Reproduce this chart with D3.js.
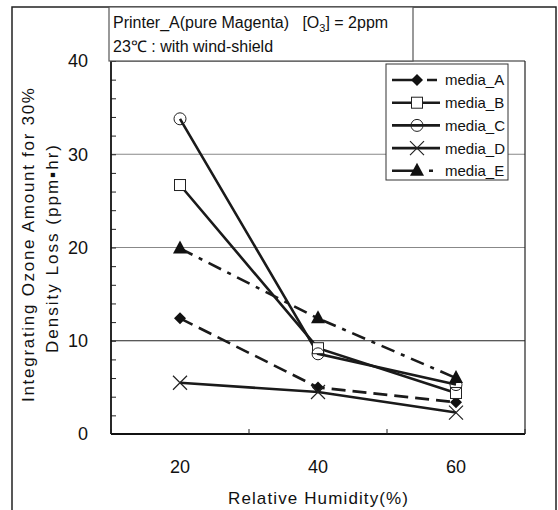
<!DOCTYPE html>
<html><head><meta charset="utf-8">
<script src="https://cdn.jsdelivr.net/npm/d3@7"></script>
<style>
html,body{margin:0;padding:0;background:#fff;}
text{font-family:"Liberation Sans",Arial,sans-serif;fill:#111;}
</style></head>
<body><svg id="c" width="558" height="510"></svg>
<script>
const categories = ["20","40","60"];
const seriesNames = ["media_A","media_B","media_C","media_D","media_E"];
const mediaA = [12.4, 5.0, 3.4];
const mediaB = [26.7, 9.2, 4.4];
const mediaC = [33.8, 8.6, 5.3];
const mediaD = [5.5, 4.5, 2.3];
const mediaE = [19.9, 12.4, 6.0];
const yTicks = [0,10,20,30,40];

const seriesValues = [mediaA, mediaB, mediaC, mediaD, mediaE];
const styles = {
  media_A:{dash:"14,7", legendDash:"26,9,10,20", marker:"diamond"},
  media_B:{dash:null, legendDash:null, marker:"square"},
  media_C:{dash:null, legendDash:null, marker:"circle"},
  media_D:{dash:null, legendDash:null, marker:"x"},
  media_E:{dash:"14,7,4,7", legendDash:"26,11,4,20", marker:"triangle"}
};

const svg = d3.select("#c");
const L=111, R=525, T=61, B=434;
const x = d3.scaleBand().domain(categories).range([L,R]).padding(0);
const y = d3.scaleLinear().domain([0,40]).range([B,T]);

// outer frame
svg.append("rect").attr("x",12).attr("y",7).attr("width",544).attr("height",520)
  .attr("fill","none").attr("stroke","#222").attr("stroke-width",1.5);

// gridlines
[10,20,30].forEach(v=>{
  svg.append("line").attr("x1",L).attr("x2",R).attr("y1",y(v)).attr("y2",y(v))
    .attr("stroke", v===10?"#222":"#888").attr("stroke-width",1.2);
});
// plot border top/right
svg.append("line").attr("x1",L).attr("x2",R).attr("y1",T).attr("y2",T).attr("stroke","#222").attr("stroke-width",1.2);
svg.append("line").attr("x1",R).attr("x2",R).attr("y1",T).attr("y2",B).attr("stroke","#222").attr("stroke-width",1.2);

// y axis minor ticks (inside)
const yAxis = d3.axisRight(y).tickValues(d3.range(0,41,2)).tickSize(5).tickFormat("");
const ga = svg.append("g").attr("transform",`translate(${L},0)`).call(yAxis);
ga.select(".domain").remove();
ga.selectAll("line").attr("stroke","#222").attr("stroke-width",1);
svg.append("line").attr("x1",L).attr("x2",L).attr("y1",T).attr("y2",B).attr("stroke","#111").attr("stroke-width",1.8);
// y tick labels
svg.selectAll(".ylab").data(yTicks).enter().append("text")
  .attr("x",88).attr("y",d=>y(d)).attr("dy","0.36em").attr("text-anchor","end")
  .attr("font-size",18).text(d=>d);

// x axis
const xb = [L, ...categories.slice(1).map(c=>x(c)), R];
svg.append("line").attr("x1",L).attr("x2",R).attr("y1",B).attr("y2",B).attr("stroke","#111").attr("stroke-width",1.8);
svg.selectAll(".xt").data(xb).enter().append("line")
  .attr("x1",d=>d).attr("x2",d=>d).attr("y1",B).attr("y2",B-5).attr("stroke","#222").attr("stroke-width",1);
svg.selectAll(".xlab").data(categories).enter().append("text")
  .attr("x",d=>x(d)+x.bandwidth()/2).attr("y",467).attr("dy","0.36em").attr("text-anchor","middle")
  .attr("font-size",18).text(d=>d);
svg.append("text").attr("x",318).attr("y",498).attr("dy","0.36em").attr("text-anchor","middle")
  .attr("font-size",17).attr("textLength",180).attr("lengthAdjust","spacing").text("Relative Humidity(%)");

// y title
const yt = svg.append("g").attr("transform","translate(0,243) rotate(-90)");
yt.append("text").attr("x",-2).attr("y",28).attr("dy","0.36em").attr("text-anchor","middle")
  .attr("font-size",17).attr("textLength",314).attr("lengthAdjust","spacing").text("Integrating Ozone Amount for 30%");
yt.append("text").attr("x",-6).attr("y",52).attr("dy","0.36em").attr("text-anchor","middle")
  .attr("font-size",17).attr("textLength",208).attr("lengthAdjust","spacing").text("Density Loss (ppm\u25AAhr)");

// marker drawing
function drawMarker(g, type, cx, cy){
  if(type==="diamond"){
    g.append("path").attr("d",`M${cx},${cy-6}L${cx+6},${cy}L${cx},${cy+6}L${cx-6},${cy}Z`).attr("fill","#111");
  } else if(type==="square"){
    g.append("rect").attr("x",cx-5.5).attr("y",cy-5.5).attr("width",11).attr("height",11)
      .attr("fill","#fff").attr("stroke","#222").attr("stroke-width",1);
  } else if(type==="circle"){
    g.append("circle").attr("cx",cx).attr("cy",cy).attr("r",6)
      .attr("fill","none").attr("stroke","#222").attr("stroke-width",1);
  } else if(type==="x"){
    g.append("path").attr("d",`M${cx-7},${cy-7}L${cx+7},${cy+7}M${cx-7},${cy+7}L${cx+7},${cy-7}`)
      .attr("stroke","#222").attr("stroke-width",1.2);
  } else if(type==="triangle"){
    g.append("path").attr("d",`M${cx},${cy-8}L${cx+7},${cy+5}L${cx-7},${cy+5}Z`).attr("fill","#111");
  }
}

const line = d3.line().x((d,i)=>x(categories[i])+x.bandwidth()/2).y(d=>y(d));
const gl = svg.append("g");
seriesNames.forEach((n,k)=>{
  gl.append("path").attr("d",line(seriesValues[k])).attr("fill","none")
    .attr("stroke","#1a1a1a").attr("stroke-width",2.6)
    .attr("stroke-dasharray",styles[n].dash);
});
const gm = svg.append("g");
seriesNames.forEach((n,k)=>{
  seriesValues[k].forEach((v,i)=>drawMarker(gm, styles[n].marker, x(categories[i])+x.bandwidth()/2, y(v)));
});

// legend
const lg = svg.append("g");
lg.append("rect").attr("x",386).attr("y",64).attr("width",122).attr("height",116)
  .attr("fill","#fff").attr("stroke","#333").attr("stroke-width",1);
seriesNames.forEach((n,k)=>{
  const ly = 80 + k*22.7;
  lg.append("line").attr("x1",392).attr("x2",440).attr("y1",ly).attr("y2",ly)
    .attr("stroke","#1a1a1a").attr("stroke-width",2.6).attr("stroke-dasharray",styles[n].legendDash);
  drawMarker(lg, styles[n].marker, 417, ly);
  lg.append("text").attr("x",445).attr("y",ly).attr("dy","0.36em").attr("font-size",15).text(n);
});

// title box
const tb = svg.append("g");
tb.append("rect").attr("x",109).attr("y",7).attr("width",304).attr("height",54)
  .attr("fill","#fff").attr("stroke","#555").attr("stroke-width",1.2);
const t1 = tb.append("text").attr("x",113).attr("y",28).attr("font-size",16);
t1.append("tspan").text("Printer_A(pure Magenta)\u00A0\u00A0 [O");
t1.append("tspan").attr("font-size",11).attr("dy",4).text("3");
t1.append("tspan").attr("dy",-4).text("] = 2ppm");
tb.append("text").attr("x",113).attr("y",52).attr("font-size",16).text("23\u2103 : with wind-shield");
</script></body></html>
